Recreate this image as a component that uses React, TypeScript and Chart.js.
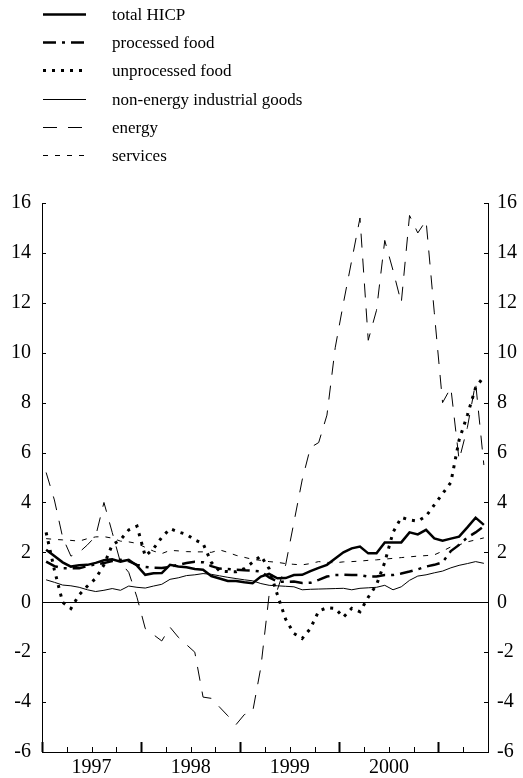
import React, { useEffect, useRef } from 'react';
import { Chart, registerables } from 'chart.js';

Chart.register(...registerables);

// Monthly data, January 1997 - June 2001 (annual % changes)
const seriesLabels = [
  'total HICP',
  'processed food',
  'unprocessed food',
  'non-energy industrial goods',
  'energy',
  'services',
];

const yearLabels = ['1997', '1998', '1999', '2000'];
const yearTickValues = [6, 18, 30, 42]; // mid-year positions in months from Jan 1997
const yTickStep = 2;
const yMin = -6;
const yMax = 16;
const monthCount = 54;

const totalHICP = [
  2.1, 1.85, 1.6, 1.43, 1.48, 1.5, 1.58, 1.68, 1.72, 1.63, 1.7, 1.47,
  1.1, 1.16, 1.17, 1.5, 1.43, 1.4, 1.33, 1.3, 1.05, 0.95, 0.85, 0.85,
  0.8, 0.76, 1.03, 1.14, 0.96, 0.97, 1.09, 1.1, 1.25, 1.38, 1.5, 1.75,
  2.0, 2.16, 2.23, 1.96, 1.96, 2.4, 2.4, 2.4, 2.8, 2.72, 2.9, 2.56,
  2.47, 2.55, 2.63, 3.0, 3.39, 3.1,
];

const processedFood = [
  1.63, 1.45, 1.36, 1.36, 1.36, 1.45, 1.52, 1.57, 1.65, 1.7, 1.65, 1.5,
  1.42, 1.38, 1.37, 1.42, 1.5, 1.57, 1.62, 1.6, 1.45, 1.35, 1.33, 1.3,
  1.28, 1.27, 1.23, 1.0, 0.83, 0.82, 0.83, 0.77, 0.78, 0.9, 1.03, 1.09,
  1.1, 1.09, 1.09, 1.03, 1.03, 1.09, 1.09, 1.15, 1.23, 1.32, 1.43, 1.5,
  1.6, 2.05, 2.3, 2.6, 2.8, 3.05,
];

const unprocessedFood = [
  2.8, 1.3, 0.0, -0.25, 0.3, 0.65, 0.95, 1.5, 2.3, 2.5, 2.9, 3.05,
  1.85, 2.15, 2.6, 2.95, 2.82, 2.72, 2.5, 2.35, 1.6, 1.25, 1.23, 1.22,
  1.35, 1.6, 1.86, 1.35, 0.3, -0.68, -1.25, -1.45, -1.05, -0.35, -0.22, -0.25,
  -0.6, -0.24, -0.38, 0.2, 0.7, 1.6, 2.8, 3.4, 3.3, 3.25, 3.45, 3.9,
  4.35, 4.8, 6.5, 7.5, 8.6, 9.05,
];

const nonEnergyIndustrialGoods = [
  0.9, 0.8, 0.69, 0.66, 0.6, 0.5, 0.43, 0.48, 0.55, 0.48, 0.65, 0.6,
  0.57, 0.65, 0.72, 0.92, 0.98, 1.07, 1.1, 1.15, 1.12, 1.06, 1.0, 0.95,
  0.9, 0.86, 0.75, 0.68, 0.66, 0.64, 0.62, 0.5, 0.52, 0.53, 0.54, 0.55,
  0.56, 0.5, 0.56, 0.58, 0.6, 0.68, 0.5, 0.62, 0.88, 1.05, 1.1, 1.18,
  1.25, 1.38, 1.48, 1.55, 1.63, 1.56,
];

const energy = [
  5.2, 4.1, 2.6, 1.85, 2.0, 2.3, 2.65, 4.0, 2.8, 1.6, 1.2, 0.2,
  -1.05, -1.3, -1.55, -1.0, -1.4, -1.7, -2.0, -3.8, -3.85, -4.2, -4.55, -4.9,
  -4.5, -4.4, -2.6, 0.3, 0.5, 1.5, 3.2, 4.9, 6.2, 6.4, 7.5, 10.2,
  12.0, 13.7, 15.4, 10.5, 11.7, 14.5, 13.3, 12.0, 15.5, 14.8, 15.3, 11.6,
  8.0, 8.6, 5.7, 7.0, 8.8, 5.5,
];

const services = [
  2.55, 2.52, 2.5, 2.48, 2.45, 2.55, 2.62, 2.63, 2.57, 2.45, 2.42, 2.36,
  2.2, 2.05, 1.95, 2.08, 2.06, 2.03, 2.02, 2.02, 2.0, 2.1, 2.0, 1.88,
  1.8, 1.72, 1.68, 1.63, 1.6, 1.55, 1.52, 1.5, 1.55, 1.63, 1.6, 1.58,
  1.62, 1.63, 1.65, 1.68, 1.7, 1.73, 1.76, 1.79, 1.82, 1.85, 1.87, 1.9,
  2.05, 2.22, 2.3, 2.42, 2.5, 2.58,
];

const FONT = '"Liberation Serif", "Times New Roman", Times, serif';

const toPoints = (arr: number[]) => arr.map((v, i) => ({ x: i + 0.5, y: v }));

const decorations = {
  id: 'decorations',
  beforeDatasetsDraw(chart: any) {
    const { ctx, chartArea, scales } = chart;
    const y0 = Math.round(scales.y.getPixelForValue(0)) + 0.5;
    ctx.save();
    ctx.strokeStyle = '#000';
    ctx.lineWidth = 1;
    ctx.beginPath();
    ctx.moveTo(chartArea.left, y0);
    ctx.lineTo(chartArea.right, y0);
    ctx.stroke();
    ctx.restore();
  },
  afterDraw(chart: any) {
    const { ctx, chartArea, scales } = chart;
    ctx.save();
    ctx.strokeStyle = '#000';
    // y ticks (inside)
    ctx.lineWidth = 1;
    for (let v = yMin; v <= yMax; v += yTickStep) {
      const py = Math.round(scales.y.getPixelForValue(v)) + 0.5;
      ctx.beginPath();
      ctx.moveTo(chartArea.left, py);
      ctx.lineTo(chartArea.left + 4, py);
      ctx.moveTo(chartArea.right, py);
      ctx.lineTo(chartArea.right - 4, py);
      ctx.stroke();
    }
    // x ticks (inside), quarterly, longer at year boundaries
    for (let m = 0; m <= monthCount; m += 3) {
      const px = Math.round(scales.x.getPixelForValue(m)) + 0.5;
      const isYear = m % 12 === 0;
      ctx.lineWidth = isYear ? 2 : 1;
      ctx.beginPath();
      ctx.moveTo(px, chartArea.bottom);
      ctx.lineTo(px, chartArea.bottom - (isYear ? 10 : 5));
      ctx.stroke();
    }
    // legend
    ctx.font = '17px ' + FONT;
    ctx.textBaseline = 'middle';
    ctx.fillStyle = '#000';
    chart.data.datasets.forEach((ds: any, i: number) => {
      const ly = Math.round(14 + i * 28.2) + 0.5;
      ctx.save();
      ctx.lineWidth = ds.borderWidth;
      ctx.setLineDash(ds.borderDash || []);
      ctx.lineCap = 'butt';
      ctx.beginPath();
      ctx.moveTo(43, ly);
      ctx.lineTo(86, ly);
      ctx.stroke();
      ctx.restore();
      ctx.fillText(ds.label, 112, ly + 1);
    });
    ctx.restore();
  },
};

export default function App() {
  const canvasRef = useRef<HTMLCanvasElement | null>(null);

  useEffect(() => {
    const canvas = canvasRef.current;
    if (!canvas) return;
    const common = {
      fill: false,
      pointRadius: 0,
      pointHoverRadius: 0,
      tension: 0,
      borderColor: '#000',
      backgroundColor: '#000',
      borderCapStyle: 'butt',
    };
    const tickFont = { family: FONT, size: 20 };
    const chart = new Chart(canvas, {
      type: 'line',
      data: {
        datasets: [
          { ...common, label: seriesLabels[0], data: toPoints(totalHICP), borderWidth: 2.5 },
          { ...common, label: seriesLabels[1], data: toPoints(processedFood), borderWidth: 2.5, borderDash: [13, 6, 3, 6] },
          { ...common, label: seriesLabels[2], data: toPoints(unprocessedFood), borderWidth: 3, borderDash: [3, 6] },
          { ...common, label: seriesLabels[3], data: toPoints(nonEnergyIndustrialGoods), borderWidth: 1 },
          { ...common, label: seriesLabels[4], data: toPoints(energy), borderWidth: 1, borderDash: [14, 11] },
          { ...common, label: seriesLabels[5], data: toPoints(services), borderWidth: 1, borderDash: [5, 7] },
        ] as any,
      },
      options: {
        responsive: false,
        animation: false,
        devicePixelRatio: 1,
        layout: { padding: { top: 203, left: 0, right: 0, bottom: 0 } },
        plugins: { legend: { display: false }, tooltip: { enabled: false } },
        scales: {
          x: {
            type: 'linear',
            min: 0,
            max: monthCount,
            position: 'bottom',
            grid: { display: false, drawTicks: false },
            border: { display: true, color: '#000', width: 1 },
            afterBuildTicks: (scale: any) => {
              scale.ticks = yearTickValues.map((v) => ({ value: v }));
            },
            afterFit: (scale: any) => {
              scale.height = 26;
            },
            ticks: {
              color: '#000',
              font: tickFont,
              padding: 4,
              maxRotation: 0,
              autoSkip: false,
              callback: (v: any) => yearLabels[yearTickValues.indexOf(Number(v))] ?? '',
            },
          },
          y: {
            type: 'linear',
            position: 'left',
            min: yMin,
            max: yMax,
            grid: { display: false, drawTicks: false },
            border: { display: true, color: '#000', width: 1 },
            afterFit: (scale: any) => {
              scale.width = 42;
            },
            ticks: { stepSize: yTickStep, color: '#000', font: tickFont, padding: 11 },
          },
          y2: {
            type: 'linear',
            position: 'right',
            min: yMin,
            max: yMax,
            grid: { display: false, drawTicks: false },
            border: { display: true, color: '#000', width: 1 },
            afterFit: (scale: any) => {
              scale.width = 35;
            },
            ticks: { stepSize: yTickStep, color: '#000', font: tickFont, padding: 9 },
          },
        },
      } as any,
      plugins: [decorations],
    });
    return () => chart.destroy();
  }, []);

  return (
    <div style={{ position: 'absolute', left: 0, top: 0, width: 523, height: 778, background: '#fff' }}>
      <canvas ref={canvasRef} width={523} height={778} style={{ display: 'block' }} />
    </div>
  );
}
